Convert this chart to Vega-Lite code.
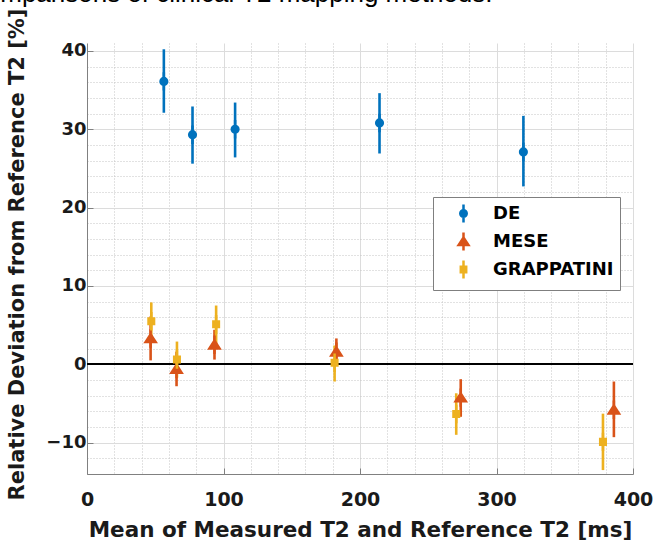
{
  "$schema": "https://vega.github.io/schema/vega-lite/v6.json",
  "width": 546,
  "height": 431,
  "autosize": {"type": "none"},
  "padding": {"left": 87, "top": 43, "right": 30, "bottom": 68},
  "background": "white",
  "title": {
    "text": "Comparisons of clinical T2 mapping methods.",
    "anchor": "start",
    "frame": "group",
    "dx": -120,
    "offset": -20,
    "baseline": "alphabetic",
    "font": "Liberation Sans",
    "fontSize": 26,
    "fontWeight": "normal",
    "color": "#000000"
  },
  "config": {
    "view": {"stroke": null},
    "font": "DejaVu Sans",
    "legend": {
      "orient": "none",
      "legendX": 346,
      "legendY": 154,
      "fillColor": "white",
      "strokeColor": "#7f7f7f",
      "padding": 6,
      "symbolOffset": 14,
      "labelOffset": 19,
      "rowPadding": -1,
      "labelFont": "DejaVu Sans",
      "labelFontSize": 18,
      "labelFontWeight": "bold",
      "labelColor": "#000000",
      "symbolSize": 324,
      "symbolStrokeWidth": 2.5,
      "symbolOpacity": 1
    }
  },
  "data": {
    "values": [
      {"method": "DE", "x": 56.3, "y": 36.1, "lo": 32.1, "hi": 40.2},
      {"method": "DE", "x": 77.3, "y": 29.3, "lo": 25.6, "hi": 32.9},
      {"method": "DE", "x": 108.5, "y": 30.0, "lo": 26.4, "hi": 33.4},
      {"method": "DE", "x": 214.3, "y": 30.8, "lo": 26.9, "hi": 34.6},
      {"method": "DE", "x": 319.7, "y": 27.1, "lo": 22.7, "hi": 31.7},
      {"method": "MESE", "x": 46.6, "y": 3.3, "lo": 0.5, "hi": 6.1},
      {"method": "MESE", "x": 65.6, "y": -0.6, "lo": -2.8, "hi": 1.6},
      {"method": "MESE", "x": 93.4, "y": 2.5, "lo": 0.6, "hi": 4.4},
      {"method": "MESE", "x": 182.7, "y": 1.6, "lo": -0.1, "hi": 3.3},
      {"method": "MESE", "x": 273.8, "y": -4.25, "lo": -6.7, "hi": -1.9},
      {"method": "MESE", "x": 386.0, "y": -5.8, "lo": -9.3, "hi": -2.2},
      {"method": "GRAPPATINI", "x": 47.1, "y": 5.5, "lo": 2.9, "hi": 7.9},
      {"method": "GRAPPATINI", "x": 65.9, "y": 0.6, "lo": -1.7, "hi": 2.9},
      {"method": "GRAPPATINI", "x": 94.6, "y": 5.1, "lo": 2.4, "hi": 7.5},
      {"method": "GRAPPATINI", "x": 181.4, "y": 0.2, "lo": -2.2, "hi": 2.4},
      {"method": "GRAPPATINI", "x": 270.5, "y": -6.35, "lo": -9.0, "hi": -3.7},
      {"method": "GRAPPATINI", "x": 378.0, "y": -9.9, "lo": -13.5, "hi": -6.3}
    ]
  },
  "encoding": {
    "x": {
      "field": "x",
      "type": "quantitative",
      "scale": {"domain": [0, 400], "nice": false, "zero": false},
      "axis": {
        "title": "Mean of Measured T2 and Reference T2 [ms]",
        "values": [0, 20, 40, 60, 80, 100, 120, 140, 160, 180, 200, 220, 240, 260, 280, 300, 320, 340, 360, 380, 400],
        "labelExpr": "datum.value % 100 === 0 ? datum.label : ''",
        "labelFont": "DejaVu Sans",
        "labelFontSize": 19,
        "labelFontWeight": "bold",
        "labelColor": "#1a1a1a",
        "labelPadding": 22,
        "labelFlush": false,
        "labelOverlap": false,
        "domainColor": "#808080",
        "domainWidth": 1,
        "tickColor": "#808080",
        "tickSize": -6,
        "tickOpacity": {"condition": {"test": "datum.value % 100 === 0", "value": 1}, "value": 0},
        "grid": true,
        "gridColor": {"condition": {"test": "datum.value % 100 === 0", "value": "#dcdcdc"}, "value": "#c4c4c4"},
        "gridDash": {"condition": {"test": "datum.value % 100 === 0", "value": []}, "value": [1, 2]},
        "gridWidth": 1,
        "titleFont": "DejaVu Sans",
        "titleFontSize": 21.5,
        "titleFontWeight": "bold",
        "titleColor": "#1a1a1a",
        "titleAnchor": "middle",
        "titleX": 273,
        "titleY": 62,
        "titleBaseline": "alphabetic"
      }
    },
    "y": {
      "field": "y",
      "type": "quantitative",
      "scale": {"domain": [-14, 41], "nice": false, "zero": false},
      "axis": {
        "title": "Relative Deviation from Reference T2 [%]",
        "values": [-14, -12, -10, -8, -6, -4, -2, 0, 2, 4, 6, 8, 10, 12, 14, 16, 18, 20, 22, 24, 26, 28, 30, 32, 34, 36, 38, 40],
        "labelExpr": "datum.value % 10 === 0 ? datum.label : ''",
        "labelFont": "DejaVu Sans",
        "labelFontSize": 18,
        "labelFontWeight": "bold",
        "labelColor": "#1a1a1a",
        "labelPadding": 7,
        "labelFlush": false,
        "labelOverlap": false,
        "domainColor": "#808080",
        "domainWidth": 1,
        "tickColor": "#808080",
        "tickSize": -6,
        "tickOpacity": {"condition": {"test": "datum.value % 10 === 0", "value": 1}, "value": 0},
        "grid": true,
        "gridColor": {"condition": {"test": "datum.value % 10 === 0", "value": "#dcdcdc"}, "value": "#c4c4c4"},
        "gridDash": {"condition": {"test": "datum.value % 10 === 0", "value": []}, "value": [1, 2]},
        "gridWidth": 1,
        "titleFont": "DejaVu Sans",
        "titleFontSize": 21,
        "titleFontWeight": "bold",
        "titleColor": "#1a1a1a",
        "titleAngle": -90,
        "titleAlign": "center",
        "titleBaseline": "middle",
        "titleX": -70,
        "titleY": 211
      }
    }
  },
  "layer": [
    {
      "mark": {"type": "rule", "color": "#000000", "strokeWidth": 1.2},
      "encoding": {"x": {"value": 0}, "x2": {"value": 546}, "y": {"datum": 0, "type": "quantitative"}}
    },
    {
      "mark": {"type": "rule", "strokeWidth": 2.6},
      "encoding": {
        "y": {"field": "lo", "type": "quantitative"},
        "y2": {"field": "hi"},
        "color": {
          "field": "method",
          "type": "nominal",
          "scale": {"domain": ["DE", "MESE", "GRAPPATINI"], "range": ["#0072BD", "#D95319", "#EDB120"]}
        }
      }
    },
    {
      "mark": {"type": "point", "filled": true, "size": 340, "strokeWidth": 2.5, "opacity": 1, "strokeCap": "butt"},
      "encoding": {
        "color": {
          "field": "method",
          "type": "nominal",
          "scale": {"domain": ["DE", "MESE", "GRAPPATINI"], "range": ["#0072BD", "#D95319", "#EDB120"]},
          "legend": {"title": null}
        },
        "stroke": {
          "field": "method",
          "type": "nominal",
          "scale": {"domain": ["DE", "MESE", "GRAPPATINI"], "range": ["#0072BD", "#D95319", "#EDB120"]},
          "legend": {"title": null}
        },
        "shape": {
          "field": "method",
          "type": "nominal",
          "scale": {
            "domain": ["DE", "MESE", "GRAPPATINI"],
            "range": [
              "M0,-1L0,1M-0.36,0A0.36,0.36,0,1,1,0.36,0A0.36,0.36,0,1,1,-0.36,0Z",
              "M0,-1L0,1M-0.55,0.4L0,-0.45L0.55,0.4Z",
              "M0,-1L0,1M-0.3,-0.3L0.3,-0.3L0.3,0.3L-0.3,0.3Z"
            ]
          },
          "legend": {"title": null}
        }
      }
    }
  ]
}
